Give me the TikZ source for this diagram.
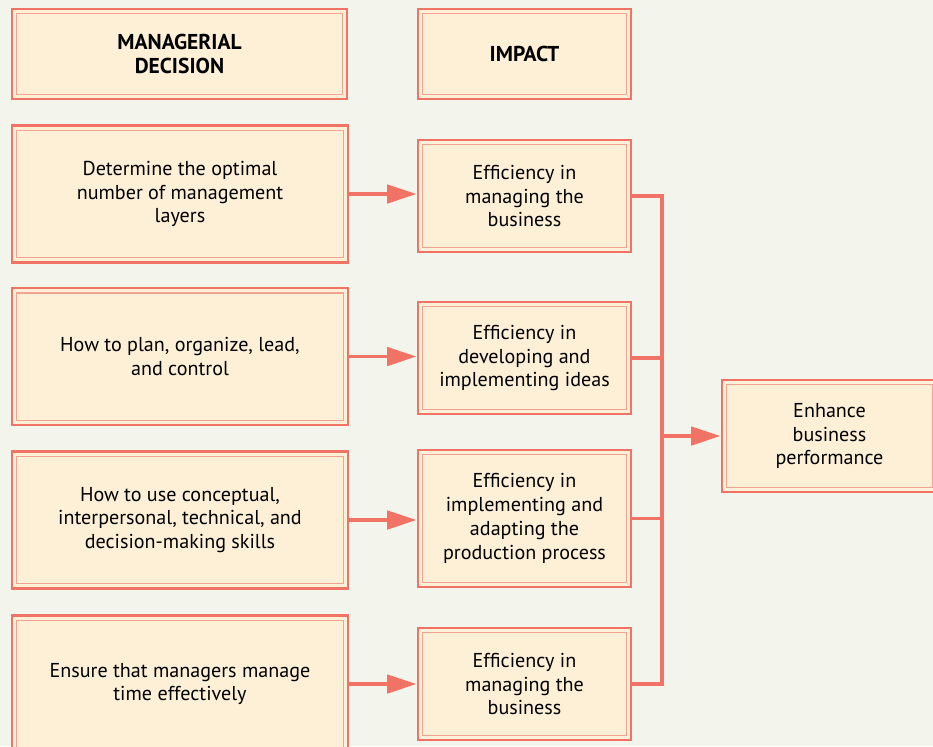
\documentclass[tikz,border=0pt]{standalone}
\usepackage{fontspec}
\setmainfont{PT Sans}
\usetikzlibrary{arrows.meta}
\definecolor{bgcol}{HTML}{F3F4EC}
\definecolor{boxfill}{HTML}{FEF0D6}
\definecolor{edgecol}{HTML}{F07366}
\definecolor{innercol}{HTML}{F6A292}
\tikzset{
  box/.style={draw=edgecol, line width=1.8pt, fill=boxfill, align=center,
    inner sep=0pt, font=\fontsize{14.3}{17}\selectfont},
  leftbox/.style={box, minimum width=8.4cm, minimum height=3.42cm},
  midbox/.style={box, minimum width=5.33cm, minimum height=2.8cm},
  headbox/.style={box, minimum height=2.25cm, font=\fontsize{15.3}{17.2}\selectfont\bfseries},
  innerline/.style={draw=innercol, line width=0.9pt},
  link/.style={draw=edgecol, line width=2.8pt, line join=miter},
  linkarrow/.style={link, -{Triangle[length=21pt, width=13pt]}}
}
\begin{document}
\begin{tikzpicture}[x=0.025cm, y=-0.025cm]
    \fill[bgcol] (0,0) rectangle (933,746);
    \useasboundingbox (0,0) rectangle (933,746);
    % headings
    \node[headbox, minimum width=8.38cm] (hdec) at (179.5,54) {MANAGERIAL\\DECISION};
    \node[headbox, minimum width=5.33cm] (himp) at (524.5,54) {IMPACT};
    % decisions
    \node[leftbox] (d1) at (180,194) {Determine the optimal\\number of management\\layers};
    \node[leftbox] (d2) at (180,356.5) {How to plan, organize, lead,\\and control};
    \node[leftbox] (d3) at (180,520) {How to use conceptual,\\interpersonal, technical, and\\decision-making skills};
    \node[leftbox] (d4) at (180,684) {Ensure that managers manage\\time effectively};
    % impacts
    \node[midbox] (i1) at (524.5,196) {Efficiency in\\managing the\\business};
    \node[midbox] (i2) at (524.5,358) {Efficiency in\\developing and\\implementing ideas};
    \node[midbox, minimum height=3.43cm] (i3) at (524.5,518.5) {Efficiency in\\implementing and\\adapting the\\production process};
    \node[midbox] (i4) at (524.5,684) {Efficiency in\\managing the\\business};
    % result
    \node[midbox, minimum width=5.38cm] (res) at (829.5,436) {Enhance\\business\\performance};
    % inner frames
    \foreach \n in {hdec,himp,d1,d2,d3,d4,i1,i2,i3,i4,res}
        \draw[innerline] ([shift={(4.3pt,4.3pt)}]\n.south west) rectangle ([shift={(-4.3pt,-4.3pt)}]\n.north east);
    % connectors
    \coordinate (bus) at (662,435);
    \foreach \k in {1,2,3,4}
        \draw[linkarrow] (d\k.east) -- (d\k.east -| i\k.west);
    \draw[link] (i1.east) -- (i1.east -| bus) -- (i4.east -| bus) -- (i4.east);
    \draw[link] (i2.east) -- (i2.east -| bus);
    \draw[link] (i3.east) -- (i3.east -| bus);
    \draw[linkarrow] (bus |- res.west) -- (res.west);
\end{tikzpicture}
\end{document}
